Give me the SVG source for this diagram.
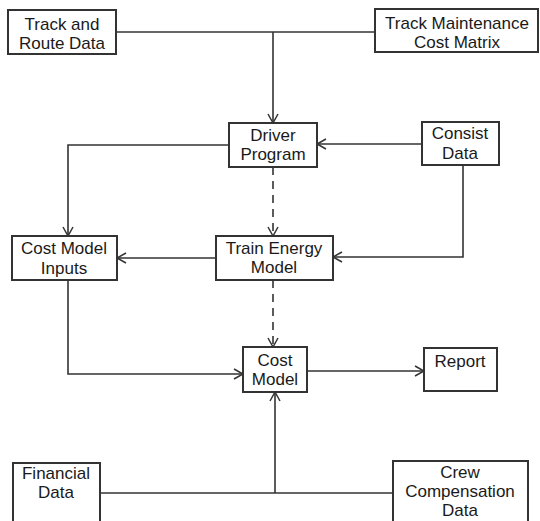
<svg xmlns="http://www.w3.org/2000/svg" width="540" height="521" viewBox="0 0 540 521">
<defs>
<marker id="arr" markerWidth="12" markerHeight="12" refX="10" refY="6" orient="auto" markerUnits="userSpaceOnUse">
<path d="M1,1 L10,6 L1,11" fill="none" stroke="#333" stroke-width="1.5"/>
</marker>
<style>
.box{fill:#fff;stroke:#333;stroke-width:2}
.t{font-family:"Liberation Sans",Arial,sans-serif;font-size:17px;fill:#1a1a1a;text-anchor:middle}
.c{fill:none;stroke:#333;stroke-width:1.6}
.d{stroke-dasharray:8 6}
</style>
</defs>
<rect width="540" height="521" fill="#fff"/>
<g id="connectors">
<path class="c" d="M116,32 H375"/>
<path class="c" d="M273,32 V123" marker-end="url(#arr)"/>
<path class="c" d="M422,144 H317" marker-end="url(#arr)"/>
<path class="c" d="M463,165 V257 H333" marker-end="url(#arr)"/>
<path class="c" d="M229,145 H68 V236" marker-end="url(#arr)"/>
<path class="c d" d="M273,167 V236" marker-end="url(#arr)"/>
<path class="c" d="M216,258 H117" marker-end="url(#arr)"/>
<path class="c d" d="M273,280 V347" marker-end="url(#arr)"/>
<path class="c" d="M68,280 V374 H243" marker-end="url(#arr)"/>
<path class="c" d="M307,371 H424" marker-end="url(#arr)"/>
<path class="c" d="M100,493 H393"/>
<path class="c" d="M275,493 V392" marker-end="url(#arr)"/>
</g>
<g id="track-route"><rect class="box" x="8" y="10" width="108" height="44"/><text class="t" x="62" y="30">Track and</text><text class="t" x="62" y="49">Route Data</text></g>
<g id="track-maintenance"><rect class="box" x="375" y="9" width="163" height="43"/><text class="t" x="457" y="29">Track Maintenance</text><text class="t" x="457" y="48">Cost Matrix</text></g>
<g id="driver-program"><rect class="box" x="229" y="123" width="88" height="44"/><text class="t" x="273" y="141">Driver</text><text class="t" x="273" y="160">Program</text></g>
<g id="consist-data"><rect class="box" x="422" y="122" width="77" height="43"/><text class="t" x="460" y="139">Consist</text><text class="t" x="460" y="159">Data</text></g>
<g id="cost-model-inputs"><rect class="box" x="12" y="236" width="105" height="44"/><text class="t" x="64" y="254">Cost Model</text><text class="t" x="64" y="274">Inputs</text></g>
<g id="train-energy-model"><rect class="box" x="216" y="236" width="117" height="44"/><text class="t" x="274" y="254">Train Energy</text><text class="t" x="274" y="273">Model</text></g>
<g id="cost-model"><rect class="box" x="243" y="347" width="64" height="45"/><text class="t" x="275" y="366">Cost</text><text class="t" x="275" y="385">Model</text></g>
<g id="report"><rect class="box" x="424" y="348" width="73" height="43"/><text class="t" x="460" y="367">Report</text></g>
<g id="financial-data"><rect class="box" x="13" y="463" width="87" height="70"/><text class="t" x="56" y="479">Financial</text><text class="t" x="56" y="498">Data</text></g>
<g id="crew-compensation-data"><rect class="box" x="393" y="461" width="135" height="72"/><text class="t" x="460" y="478">Crew</text><text class="t" x="460" y="497">Compensation</text><text class="t" x="460" y="516">Data</text></g>
</svg>
